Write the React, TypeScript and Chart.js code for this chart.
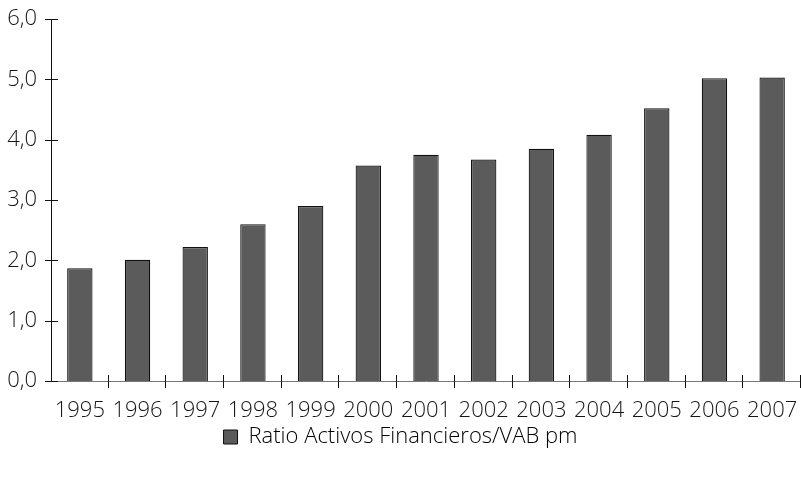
import React, { useEffect, useRef } from "react";
import { Chart, registerables } from "chart.js";

Chart.register(...registerables);

const years = ["1995", "1996", "1997", "1998", "1999", "2000", "2001", "2002", "2003", "2004", "2005", "2006", "2007"];
const ratio = [1.87, 2.01, 2.22, 2.6, 2.9, 3.57, 3.75, 3.67, 3.85, 4.08, 4.52, 5.02, 5.03];
const seriesLabel = "Ratio Activos Financieros/VAB pm";
const yTicks = [0, 1, 2, 3, 4, 5, 6];

const FONT = "'Open Sans', 'DejaVu Sans', sans-serif";
const TEXT = "#151515";

const crossTicks = {
  id: "crossTicks",
  afterDatasetsDraw(chart: any) {
    const ctx = chart.ctx;
    const x = chart.scales.x;
    const y = chart.scales.y;
    ctx.save();
    ctx.lineWidth = 1;
    ctx.strokeStyle = "#111";
    yTicks.forEach((v) => {
      const py = Math.round(y.getPixelForValue(v)) + 0.5;
      ctx.beginPath();
      ctx.moveTo(x.left - 6, py);
      ctx.lineTo(x.left + 7, py);
      ctx.stroke();
    });
    const n = years.length;
    for (let i = 1; i <= n; i++) {
      const px = Math.round(x.getPixelForValue(i - 0.5)) - 0.5;
      ctx.beginPath();
      ctx.moveTo(px, y.bottom - 6);
      ctx.lineTo(px, y.bottom + 7);
      ctx.stroke();
    }
    ctx.restore();
  },
};

export default function App() {
  const ref = useRef<HTMLCanvasElement>(null);
  useEffect(() => {
    if (!ref.current) return;
    const chart = new Chart(ref.current, {
      type: "bar",
      data: {
        labels: years,
        datasets: [
          {
            label: seriesLabel,
            data: ratio,
            backgroundColor: "#5b5b5c",
            borderColor: "#111",
            borderWidth: 1.2,
            barPercentage: 0.44,
            categoryPercentage: 1,
          },
        ],
      },
      options: {
        animation: false,
        responsive: false,
        layout: { padding: { top: 19, right: 0, left: 0, bottom: 21 } },
        plugins: {
          tooltip: { enabled: false },
          legend: {
            position: "bottom",
            labels: {
              boxWidth: 14,
              boxHeight: 14,
              padding: 6,
              color: TEXT,
              font: { family: FONT, size: 22, weight: 300 },
              generateLabels: () => [
                {
                  text: seriesLabel,
                  fillStyle: "#5b5b5c",
                  strokeStyle: "#111",
                  lineWidth: 1,
                  datasetIndex: 0,
                },
              ],
            },
          },
        },
        scales: {
          x: {
            grid: { display: false, drawTicks: false },
            border: { display: true, color: "#777", width: 1 },
            ticks: {
              color: TEXT,
              padding: 17,
              maxRotation: 0,
              autoSkip: false,
              font: { family: FONT, size: 22, weight: 300 },
            },
            afterFit: (s: any) => {
              s.height = 39;
              s.paddingLeft = 0;
              s.paddingRight = 0;
            },
          },
          y: {
            min: 0,
            max: 6,
            grid: { display: false, drawTicks: false },
            border: { display: true, color: "#111", width: 1 },
            ticks: {
              stepSize: 1,
              color: TEXT,
              padding: 14,
              font: { family: FONT, size: 22, weight: 300 },
              callback: (v: any) => Number(v).toFixed(1).replace(".", ","),
            },
            afterFit: (s: any) => {
              s.width = 51;
              s.paddingTop = 0;
              s.paddingBottom = 0;
            },
          },
        },
      },
      plugins: [crossTicks],
    });
    return () => chart.destroy();
  }, []);
  return (
    <div style={{ position: "fixed", left: 0, top: 0, width: 801, height: 479 }}>
      <canvas ref={ref} width={801} height={479} />
    </div>
  );
}
